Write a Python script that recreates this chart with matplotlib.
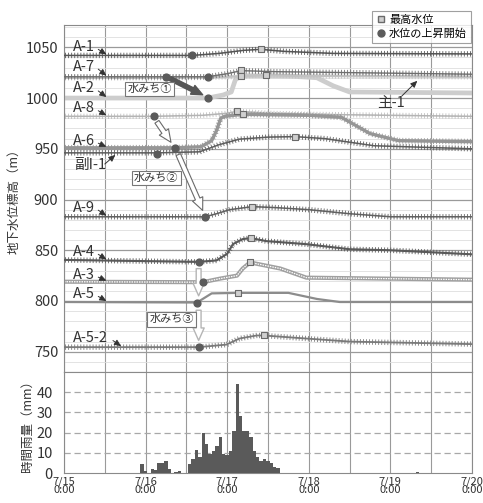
import numpy as np
import matplotlib
matplotlib.use("Agg")
import matplotlib.pyplot as plt
import matplotlib.patheffects as pe
from matplotlib.lines import Line2D

plt.rcParams["font.family"] = ["Noto Sans CJK JP", "DejaVu Sans"]

# ---- groundwater levels: (day of July, elevation m) ----
A1_X = [15, 16.57, 16.9, 17.2, 17.41, 17.7, 18.3, 20]
A1_Y = [1042, 1042, 1044, 1047, 1048, 1046, 1044, 1043.5]
A7_X = [15, 16.76, 17.0, 17.17, 17.6, 20]
A7_Y = [1021, 1021, 1024, 1027, 1026, 1023.5]
S1_X = [15, 16.25, 16.8, 17.17, 17.48, 17.8, 20]          # 主-1
S1_Y = [1020, 1020, 1020.5, 1021.5, 1023, 1022, 1021]
A2_X = [15, 16.76, 16.95, 17.05, 17.1, 17.17, 17.8, 18.1, 18.3, 18.5, 20]
A2_Y = [1000, 1000, 1003, 1006, 1018, 1022, 1021.5, 1020, 1012, 1006, 1005]
A8_X = [15, 16.10, 16.7, 17.0, 17.12, 17.5, 18.0, 20]
A8_Y = [982, 982, 983, 985, 987, 985, 984, 982]
A6_X = [15, 16.36, 16.68, 16.81, 16.87, 16.92, 16.97, 17.19, 18.0, 18.4, 18.75, 19.1, 20]
A6_Y = [951, 951, 952, 958, 968, 980, 982, 984, 983, 981, 965, 958, 957]
F1_X = [15, 16.14, 16.66, 16.9, 17.15, 17.5, 17.83, 18.2, 18.8, 20]   # 副I-1
F1_Y = [946, 946, 947, 954, 959.5, 961.5, 962, 960, 953, 950]
A9_X = [15, 16.73, 16.87, 17.03, 17.31, 17.6, 18.0, 18.5, 19.0, 20]
A9_Y = [883, 883, 886, 890, 893, 892, 890, 886, 883, 883]
A4_X = [15, 16.65, 16.87, 17.0, 17.07, 17.19, 17.29, 17.48, 17.97, 18.5, 19.0, 20]
A4_Y = [840.5, 838.5, 840, 846.5, 856, 861, 862, 859, 856, 851, 850, 846]
A3_X = [15, 16.70, 16.91, 17.12, 17.19, 17.28, 17.65, 17.97, 20]
A3_Y = [819, 818.5, 822, 825, 832, 838, 832, 823, 821]
A5_X = [15, 16.63, 16.81, 17.13, 17.75, 18.1, 18.38, 20]
A5_Y = [799, 798.5, 807.5, 808, 808, 802, 799, 799]
A52_X = [15, 16.65, 16.99, 17.15, 17.36, 17.45, 17.97, 18.5, 20]
A52_Y = [754.5, 754.5, 757, 763, 766, 766, 763, 760, 757.5]

# max water level (squares) and start of rise (circles)
PEAK_X = [17.41, 17.17, 17.48, 17.17, 17.12, 17.19, 17.83, 17.31, 17.29, 17.28, 17.13, 17.45]
PEAK_Y = [1048, 1028, 1023, 1022, 987, 984, 962, 893, 862, 838, 808, 766]
RISE_X = [16.57, 16.25, 16.76, 16.76, 16.10, 16.36, 16.14, 16.73, 16.65, 16.70, 16.63, 16.65]
RISE_Y = [1042, 1021, 1020.5, 1000, 982, 951, 945, 883, 838.5, 818.5, 798.5, 754.5]

# ---- hourly rainfall (hour from 7/15 0:00, mm) ----
RAIN_H = [23, 24, 26, 27, 28, 29, 30, 31, 33, 34, 37, 38, 39, 40, 41, 42, 43, 44, 45, 46,
          47, 48, 49, 50, 51, 52, 53, 54, 55, 56, 57, 58, 59, 60, 61, 62, 63, 104]
RAIN_MM = [4.4, 1.0, 1.8, 1.5, 5, 5, 6, 2, 0.5, 1.2, 4.4, 7, 11.5, 8, 20, 14.5, 9.5, 11, 13.5, 18,
           9.5, 9, 11, 21, 44, 28, 21, 21, 18, 11, 8, 6, 7, 6, 5, 3, 2.6, 0.4]

DAYS = [15, 16, 17, 18, 19, 20]
DAY_LABELS = ["7/15\n0:00", "7/16\n0:00", "7/17\n0:00", "7/18\n0:00", "7/19\n0:00", "7/20\n0:00"]


def ticked(color, lw=0.6, spacing=2.2, length=0.75):
    return [pe.Normal(),
            pe.TickedStroke(spacing=spacing, angle=90, length=length, linewidth=lw, foreground=color),
            pe.TickedStroke(spacing=spacing, angle=-90, length=length, linewidth=lw, foreground=color)]


fig = plt.figure(figsize=(4.83, 5.03), dpi=100)
ax = fig.add_axes([0.1325, 0.2604, 0.8447, 0.6899])
axr = fig.add_axes([0.1325, 0.0596, 0.8447, 0.2008], sharex=ax)

# grids
for d in np.arange(15, 20.01, 0.5):
    ax.axvline(d, color="#9a9a9a", lw=0.8, zorder=0)
    axr.axvline(d, color="#9a9a9a", lw=0.8, zorder=0)
for v in np.arange(740, 1071, 10):
    ax.axhline(v, color="#dedede", lw=0.6, zorder=0)
for v in np.arange(750, 1051, 50):
    ax.axhline(v, color="#9a9a9a", lw=0.9, zorder=0)
for v in [10, 20, 30, 40]:
    axr.axhline(v, color="#a8a8a8", lw=0.9, ls=(0, (5, 3)), zorder=0)

# groundwater lines
ax.plot(A2_X, A2_Y, color="#cdcdcd", lw=3.4, zorder=2)
ax.plot(S1_X, S1_Y, color="#c2c2c2", lw=1.8, zorder=2, path_effects=ticked("#c2c2c2"))
ax.plot(A7_X, A7_Y, color="#6e6e6e", lw=1.0, zorder=3, path_effects=ticked("#6e6e6e"))
ax.plot(A1_X, A1_Y, color="#555555", lw=1.1, zorder=3, path_effects=ticked("#555555"))
ax.plot(A8_X, A8_Y, color="#b4b4b4", lw=1.1, zorder=2, path_effects=ticked("#b4b4b4", lw=0.5))
ax.plot(A6_X, A6_Y, color="#969696", lw=2.4, zorder=2, path_effects=ticked("#969696", length=0.8))
ax.plot(F1_X, F1_Y, color="#5e5e5e", lw=1.1, zorder=3, path_effects=ticked("#5e5e5e"))
ax.plot(A9_X, A9_Y, color="#616161", lw=1.1, zorder=3, path_effects=ticked("#616161"))
ax.plot(A4_X, A4_Y, color="#5a5a5a", lw=1.5, zorder=3, path_effects=ticked("#5a5a5a"))
ax.plot(A3_X, A3_Y, color="#a0a0a0", lw=3.0, zorder=2)
ax.plot(A3_X, A3_Y, color="white", lw=0.9, ls=(0, (1.2, 0.8)), zorder=2)
ax.plot(A5_X, A5_Y, color="#8c8c8c", lw=1.6, zorder=2)
ax.plot(A52_X, A52_Y, color="#7a7a7a", lw=1.3, zorder=3, path_effects=ticked("#7a7a7a"))

ax.scatter(PEAK_X, PEAK_Y, marker="s", s=24, facecolor="#cfcfcf", edgecolor="#6a6a6a", lw=0.8, zorder=6)
ax.scatter(RISE_X, RISE_Y, marker="o", s=24, color="#5b5b5b", zorder=6)

# water path arrows
ax.annotate("", xy=(16.73, 1002), xytext=(16.27, 1020.5),
            arrowprops=dict(arrowstyle="simple,head_width=0.7,head_length=0.8,tail_width=0.3",
                            color="#555555", shrinkA=2, shrinkB=2), zorder=5)
hollow = dict(arrowstyle="simple,head_width=0.8,head_length=0.9,tail_width=0.35",
              fc="white", ec="#6a6a6a", lw=0.8, shrinkA=3, shrinkB=3)
ax.annotate("", xy=(16.34, 953), xytext=(16.11, 980), arrowprops=hollow, zorder=5)
ax.annotate("", xy=(16.72, 885.5), xytext=(16.38, 948), arrowprops=hollow, zorder=5)
light = dict(arrowstyle="simple,head_width=0.8,head_length=0.9,tail_width=0.35",
             fc="white", ec="#b5b5b5", lw=1.0, shrinkA=3, shrinkB=3)
ax.annotate("", xy=(16.65, 801), xytext=(16.65, 836), arrowprops=light, zorder=5)
ax.annotate("", xy=(16.65, 757), xytext=(16.65, 795), arrowprops=light, zorder=5)

box = dict(boxstyle="square,pad=0.2", fc="white", ec="#777777", lw=0.8)
ax.text(16.05, 1009, "水みち①", fontsize=8, ha="center", va="center", bbox=box, zorder=7, color="#333")
ax.text(16.13, 921, "水みち②", fontsize=8, ha="center", va="center", bbox=box, zorder=7, color="#333")
ax.text(16.32, 782, "水みち③", fontsize=8, ha="center", va="center", bbox=box, zorder=7, color="#333")

# well labels with small pointer arrows
labels = [("A-1", 1050.5, 1042), ("A-7", 1031, 1021), ("A-2", 1009.5, 1000), ("A-8", 990, 982),
          ("A-6", 958, 951), ("A-9", 892, 883), ("A-4", 848.5, 840), ("A-3", 826, 819),
          ("A-5", 807, 799)]
arw = dict(arrowstyle="-|>,head_width=0.18,head_length=0.4", color="#333333", lw=0.7,
           shrinkA=0, shrinkB=0)
for name, ty, ly in labels:
    ax.text(15.11, ty, name, fontsize=10.5, va="center", ha="left", color="#333", zorder=7)
    ax.annotate("", xy=(15.52, ly + 1), xytext=(15.42, ty - 2.5), arrowprops=arw, zorder=7)
ax.text(15.13, 934.5, "副I-1", fontsize=10.5, va="center", ha="left", color="#333", zorder=7)
ax.annotate("", xy=(15.63, 944), xytext=(15.5, 935), arrowprops=arw, zorder=7)
ax.text(15.11, 763.5, "A-5-2", fontsize=10.5, va="center", ha="left", color="#333", zorder=7)
ax.annotate("", xy=(15.70, 755.5), xytext=(15.6, 761), arrowprops=arw, zorder=7)
ax.text(19.01, 995.5, "主-1", fontsize=10.5, va="center", ha="center", color="#333", zorder=7)
ax.annotate("", xy=(19.33, 1017), xytext=(19.14, 1002), arrowprops=arw, zorder=7)

ax.set_xlim(15, 20)
ax.set_ylim(730, 1072)
ax.set_yticks([750, 800, 850, 900, 950, 1000, 1050])
ax.tick_params(axis="y", length=0, labelsize=10.5, labelcolor="#333", pad=4)
ax.tick_params(axis="x", length=0, labelbottom=False)
ax.set_ylabel("地下水位標高（m）", fontsize=9, color="#333", labelpad=4)

# rainfall
axr.bar([15 + h / 24 for h in RAIN_H], RAIN_MM, width=1 / 24, color="#5a5a5a", zorder=3)
axr.set_ylim(0, 50)
axr.set_yticks([0, 10, 20, 30, 40])
axr.set_xticks(DAYS)
axr.set_xticklabels(DAY_LABELS, color="#333", linespacing=0.75)
axr.tick_params(axis="y", length=0, labelsize=10.5, labelcolor="#333", pad=8)
axr.tick_params(axis="x", length=0, labelsize=8, pad=2.5)
axr.set_ylabel("時間雨量（mm）", fontsize=9, color="#333", labelpad=2)
for a in (ax, axr):
    for s in a.spines.values():
        s.set_color("#8a8a8a")

handles = [Line2D([], [], ls="", marker="s", ms=5, mfc="#cfcfcf", mec="#6a6a6a", label="最高水位"),
           Line2D([], [], ls="", marker="o", ms=5, color="#5b5b5b", label="水位の上昇開始")]
leg = fig.legend(handles=handles, loc="upper right", bbox_to_anchor=(0.975, 0.978), fontsize=8,
                 frameon=True, fancybox=False, edgecolor="#888888", handletextpad=0.2,
                 borderpad=0.35, labelspacing=0.3, handlelength=1.0, borderaxespad=0)
leg.get_frame().set_linewidth(0.8)
leg.set_zorder(10)

fig.savefig("out.png", dpi=100, facecolor="white")
